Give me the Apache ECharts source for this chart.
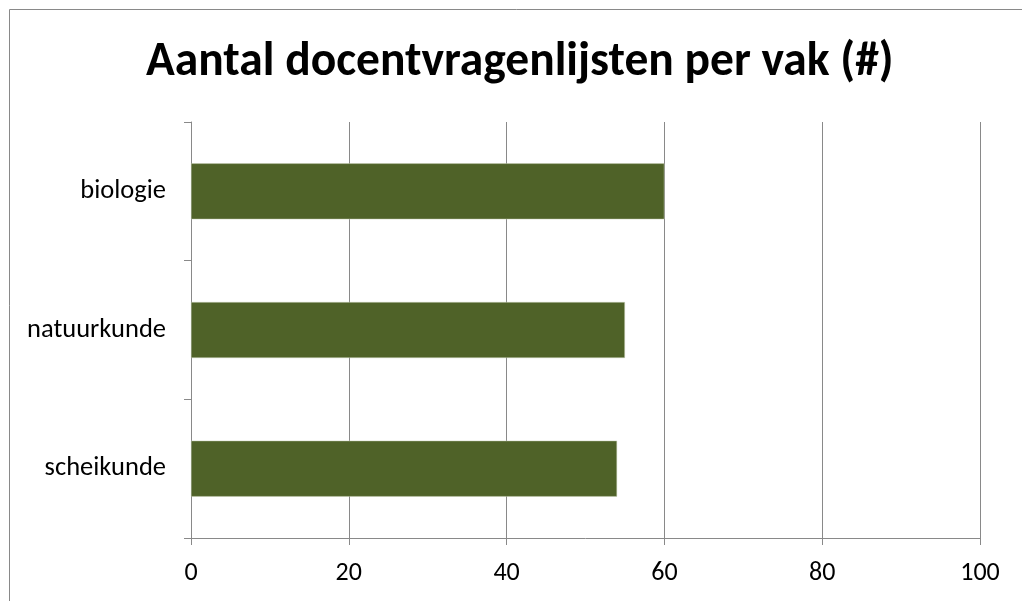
<!DOCTYPE html>
<html>
<head>
<meta charset="utf-8">
<script src="https://cdn.jsdelivr.net/npm/echarts@6/dist/echarts.min.js"></script>
<style>html,body{margin:0;padding:0;background:#fff}#c{width:1022px;height:601px}</style>
</head>
<body>
<div id="c"></div>
<script>
const titleText = 'Aantal docentvragenlijsten per vak (#)';
const categories = ['scheikunde', 'natuurkunde', 'biologie'];
const values = [54, 55, 60];
const xTicks = [0, 20, 40, 60, 80, 100];

const FONT = 'Carlito, Calibri, Lato, sans-serif';
const chart = echarts.init(document.getElementById('c'), null, {renderer: 'canvas'});
chart.setOption({
  animation: false,
  backgroundColor: '#fff',
  title: {
    text: titleText,
    left: 141,
    top: 34,
    textStyle: {fontFamily: FONT, fontWeight: 'bold', fontSize: 47.5, color: '#000'}
  },
  graphic: [{
    type: 'rect',
    shape: {x: 9.5, y: 9.5, width: 1030, height: 620},
    style: {fill: 'none', stroke: '#898989', lineWidth: 1},
    silent: true
  }],
  grid: {left: 191, right: 42, top: 122, bottom: 63},
  xAxis: {
    type: 'value',
    min: xTicks[0],
    max: xTicks[xTicks.length - 1],
    interval: 20,
    axisLine: {show: true, lineStyle: {color: '#898989', width: 1}},
    axisTick: {show: true, length: 7, lineStyle: {color: '#898989'}},
    splitLine: {show: true, lineStyle: {color: '#898989', width: 1}},
    axisLabel: {fontFamily: FONT, fontSize: 26, color: '#000', margin: 22}
  },
  yAxis: {
    type: 'category',
    data: categories,
    axisLine: {show: true, lineStyle: {color: '#898989', width: 1}},
    axisTick: {show: true, length: 7, lineStyle: {color: '#898989'}},
    axisLabel: {fontFamily: FONT, fontSize: 26.5, color: '#000', margin: 25}
  },
  series: [{
    type: 'bar',
    data: values,
    barWidth: 56,
    itemStyle: {color: '#4F6228', borderColor: '#c9d1b8', borderWidth: 0.5}
  }]
});
</script>
</body>
</html>
